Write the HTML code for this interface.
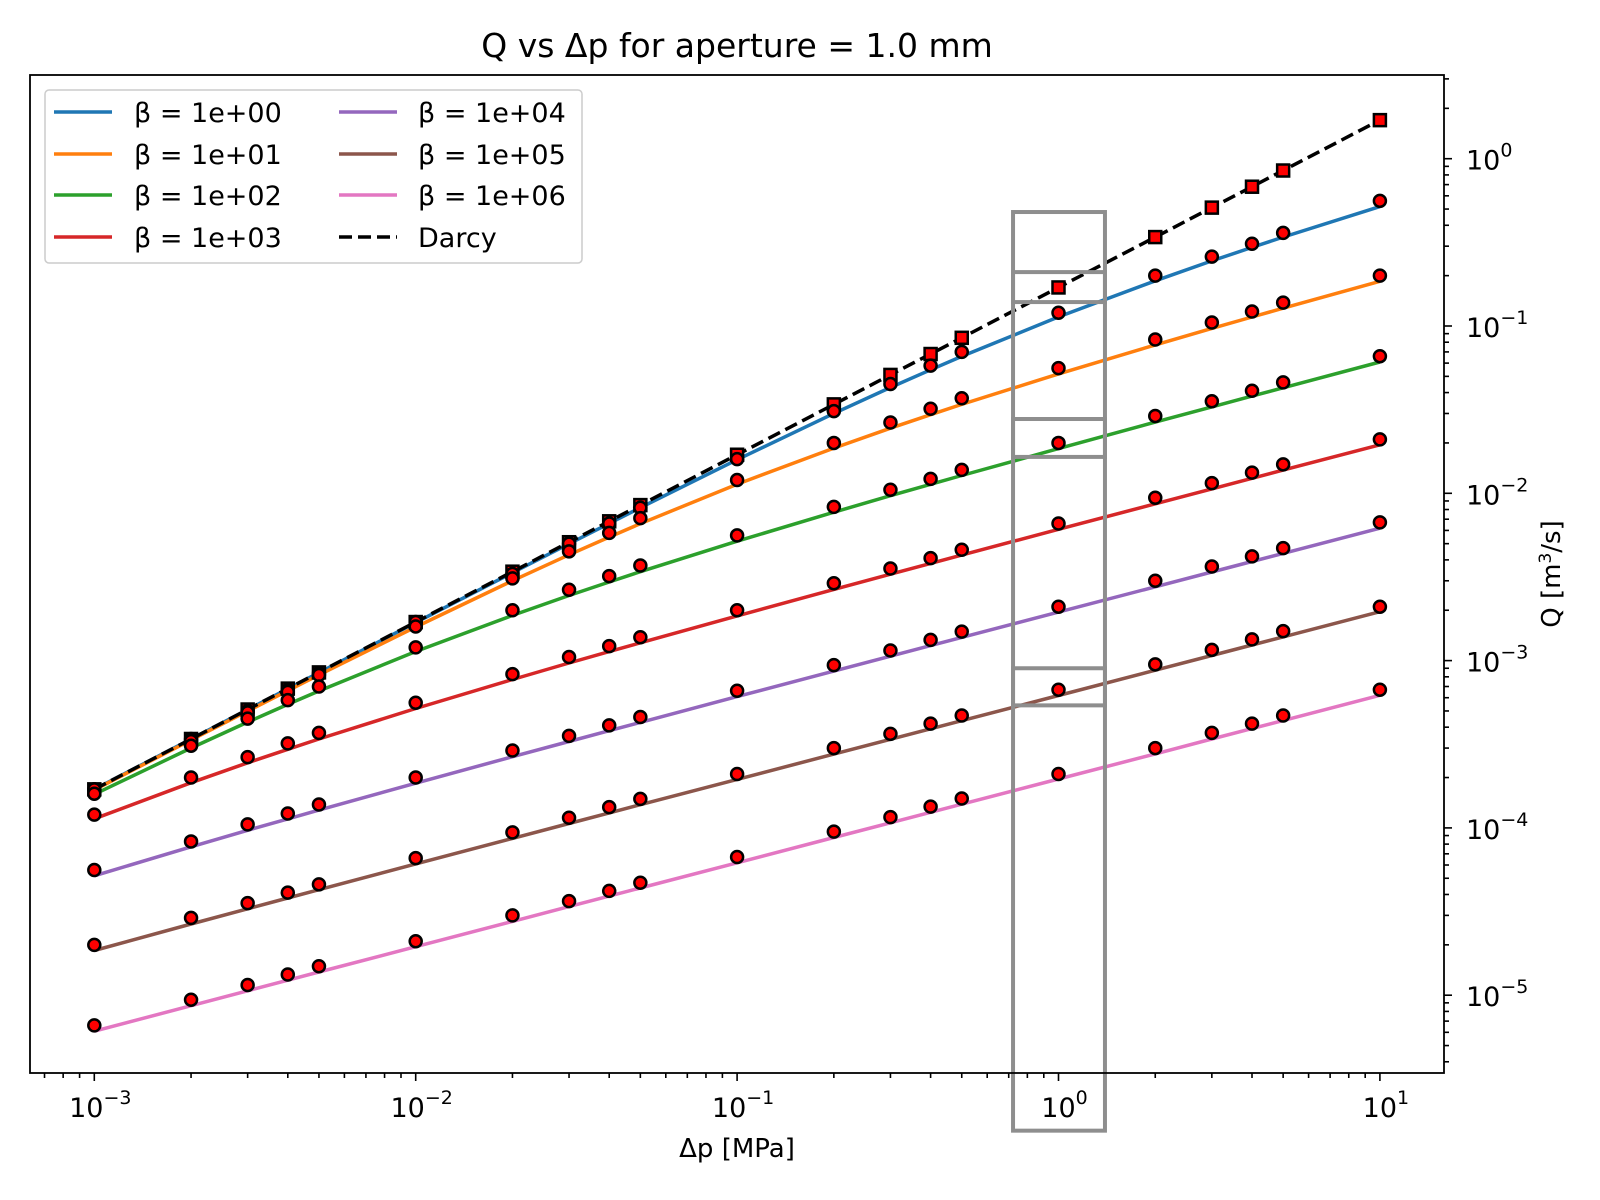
<!DOCTYPE html>
<html><head><meta charset="utf-8"><style>
html,body{margin:0;padding:0;background:#fff;}
svg{display:block;font-family:"DejaVu Sans","Liberation Sans",sans-serif;}
</style></head><body>
<svg id="chart" width="1600" height="1200" viewBox="0 0 1600 1200">
<rect x="0" y="0" width="1600" height="1200" fill="#fff"/>
<g id="plot"></g>
</svg>
<script>
const dp = [0.001,0.002,0.003,0.004,0.005,0.01,0.02,0.03,0.04,0.05,0.1,0.2,0.3,0.4,0.5,1,2,3,4,5,10];
const betaLabels = ["β = 1e+00","β = 1e+01","β = 1e+02","β = 1e+03","β = 1e+04","β = 1e+05","β = 1e+06"];
const lineB0 = [1.699e-4,3.396e-4,5.09e-4,6.781e-4,8.47e-4,1.688e-3,3.351e-3,4.991e-3,6.607e-3,8.204e-3,1.589e-2,3.003e-2,4.289e-2,5.476e-2,6.584e-2,0.1133,0.1864,0.2449,0.2951,0.3398,0.517];
const lineB1 = [1.688e-4,3.351e-4,4.991e-4,6.607e-4,8.204e-4,1.589e-3,3.003e-3,4.289e-3,5.476e-3,6.584e-3,1.133e-2,1.864e-2,2.449e-2,2.951e-2,3.398e-2,5.17e-2,7.71e-2,9.67e-2,0.1132,0.1278,0.1851];
const lineB2 = [1.589e-4,3.003e-4,4.289e-4,5.476e-4,6.584e-4,1.133e-3,1.864e-3,2.449e-3,2.951e-3,3.398e-3,5.17e-3,7.71e-3,9.67e-3,1.132e-2,1.278e-2,1.851e-2,2.663e-2,3.286e-2,3.811e-2,4.274e-2,6.09e-2];
const lineB3 = [1.133e-4,1.864e-4,2.449e-4,2.951e-4,3.398e-4,5.17e-4,7.71e-4,9.67e-4,1.132e-3,1.278e-3,1.851e-3,2.663e-3,3.286e-3,3.811e-3,4.274e-3,6.09e-3,8.66e-3,1.063e-2,1.229e-2,1.376e-2,1.950e-2];
const lineB4 = [5.17e-5,7.71e-5,9.67e-5,1.132e-4,1.278e-4,1.851e-4,2.663e-4,3.286e-4,3.811e-4,4.274e-4,6.09e-4,8.66e-4,1.063e-3,1.229e-3,1.376e-3,1.950e-3,2.762e-3,3.385e-3,3.911e-3,4.374e-3,6.19e-3];
const lineB5 = [1.851e-5,2.663e-5,3.286e-5,3.811e-5,4.274e-5,6.09e-5,8.66e-5,1.063e-4,1.229e-4,1.376e-4,1.950e-4,2.762e-4,3.385e-4,3.911e-4,4.374e-4,6.19e-4,8.76e-4,1.073e-3,1.239e-3,1.386e-3,1.960e-3];
const lineB6 = [6.09e-6,8.66e-6,1.063e-5,1.229e-5,1.376e-5,1.950e-5,2.762e-5,3.385e-5,3.911e-5,4.374e-5,6.19e-5,8.76e-5,1.073e-4,1.239e-4,1.386e-4,1.960e-4,2.77e-4,3.40e-4,3.92e-4,4.38e-4,6.20e-4];
const darcy = [1.7e-4,3.4e-4,5.1e-4,6.8e-4,8.5e-4,1.7e-3,3.4e-3,5.1e-3,6.8e-3,8.5e-3,1.7e-2,3.4e-2,5.1e-2,6.8e-2,8.5e-2,0.17,0.34,0.51,0.68,0.85,1.7];
const ptsB0 = [1.7e-4,3.4e-4,5.0e-4,6.7e-4,8.4e-4,1.7e-3,3.3e-3,5.0e-3,6.6e-3,8.2e-3,1.6e-2,3.1e-2,4.5e-2,5.8e-2,7.0e-2,0.12,0.2,0.26,0.31,0.36,0.56];
const ptsB1 = [1.7e-4,3.3e-4,4.9e-4,6.5e-4,8.2e-4,1.6e-3,3.1e-3,4.5e-3,5.8e-3,7.1e-3,1.2e-2,2.0e-2,2.65e-2,3.2e-2,3.7e-2,5.6e-2,8.3e-2,0.105,0.122,0.138,0.2];
const ptsB2 = [1.6e-4,3.1e-4,4.5e-4,5.8e-4,7.0e-4,1.2e-3,2.0e-3,2.65e-3,3.2e-3,3.7e-3,5.6e-3,8.3e-3,1.05e-2,1.22e-2,1.38e-2,2.0e-2,2.9e-2,3.55e-2,4.1e-2,4.6e-2,6.6e-2];
const ptsB3 = [1.2e-4,2.0e-4,2.65e-4,3.2e-4,3.7e-4,5.6e-4,8.3e-4,1.05e-3,1.22e-3,1.38e-3,2.0e-3,2.9e-3,3.55e-3,4.1e-3,4.6e-3,6.6e-3,9.4e-3,1.15e-2,1.33e-2,1.49e-2,2.1e-2];
const ptsB4 = [5.6e-5,8.3e-5,1.05e-4,1.22e-4,1.38e-4,2.0e-4,2.9e-4,3.55e-4,4.1e-4,4.6e-4,6.6e-4,9.4e-4,1.15e-3,1.33e-3,1.49e-3,2.1e-3,3.0e-3,3.65e-3,4.2e-3,4.7e-3,6.7e-3];
const ptsB5 = [2.0e-5,2.9e-5,3.55e-5,4.1e-5,4.6e-5,6.6e-5,9.4e-5,1.15e-4,1.33e-4,1.49e-4,2.1e-4,3.0e-4,3.65e-4,4.2e-4,4.7e-4,6.7e-4,9.5e-4,1.16e-3,1.34e-3,1.5e-3,2.1e-3];
const ptsB6 = [6.6e-6,9.4e-6,1.15e-5,1.33e-5,1.49e-5,2.1e-5,3.0e-5,3.65e-5,4.2e-5,4.7e-5,6.7e-5,9.5e-5,1.16e-4,1.34e-4,1.5e-4,2.1e-4,3.0e-4,3.7e-4,4.2e-4,4.7e-4,6.7e-4];
const xTickExp = [-3,-2,-1,0,1];
const yTickExp = [0,-1,-2,-3,-4,-5];
const boxX = [0.722,1.395];
const boxOuterY = [0.48,1.55e-6];
const boxInnerY = [[0.21,0.139],[0.0278,0.0165],[9.0e-4,5.4e-4]];

const NS="http://www.w3.org/2000/svg";
const L=30,R=1444,T=75,B=1073;
function sx(v){return 94.3+(Math.log10(v)+3)*321.4;}
function sy(v){return 158.7-Math.log10(v)*167.3;}
const plot=document.getElementById('plot');
function mk(tag,attrs,parent){const e=document.createElementNS(NS,tag);for(const k in attrs)e.setAttribute(k,attrs[k]);(parent||plot).appendChild(e);return e;}
const colors=["#1f77b4","#ff7f0e","#2ca02c","#d62728","#9467bd","#8c564b","#e377c2"];
const lines=[lineB0,lineB1,lineB2,lineB3,lineB4,lineB5,lineB6];
const pts=[ptsB0,ptsB1,ptsB2,ptsB3,ptsB4,ptsB5,ptsB6];

const clip=mk('clipPath',{id:'clipA'});mk('rect',{x:L,y:T,width:R-L,height:B-T},clip);
const g=mk('g',{'clip-path':'url(#clipA)'});


lines.forEach((arr,i)=>{
  const p=mk('polyline',{points:arr.map((v,j)=>sx(dp[j]).toFixed(1)+','+sy(v).toFixed(1)).join(' '),fill:'none',stroke:colors[i],'stroke-width':3.5},g);
  
  
});
const dl=mk('polyline',{points:darcy.map((v,j)=>sx(dp[j]).toFixed(1)+','+sy(v).toFixed(1)).join(' '),fill:'none',stroke:'#000','stroke-width':3.5,'stroke-dasharray':'13,6'},g);


darcy.forEach((v,j)=>{
  const s=mk('rect',{x:sx(dp[j])-6,y:sy(v)-6,width:12,height:12,fill:'#ff0000',stroke:'#000','stroke-width':2.5},g);
  
  
});
pts.forEach((arr,i)=>{arr.forEach((v,j)=>{
  const c=mk('circle',{cx:sx(dp[j]),cy:sy(v),r:6,fill:'#ff0000',stroke:'#000','stroke-width':2.5},g);
  
  
});});
const gx0=sx(boxX[0]),gx1=sx(boxX[1]);
const ob=mk('rect',{x:gx0,y:sy(boxOuterY[0]),width:gx1-gx0,height:sy(boxOuterY[1])-sy(boxOuterY[0]),fill:'none',stroke:'#8e8e8e','stroke-width':4});


boxInnerY.forEach(p=>{
  const r=mk('rect',{x:gx0,y:sy(p[0]),width:gx1-gx0,height:sy(p[1])-sy(p[0]),fill:'none',stroke:'#8e8e8e','stroke-width':4});
  
  
});
const fr=mk('rect',{x:L,y:T,width:R-L,height:B-T,fill:'none',stroke:'#000','stroke-width':1.8});


for(let e=-4;e<=1;e++){for(let m=1;m<10;m++){const v=m*Math.pow(10,e);const x=sx(v);if(x<L||x>R)continue;
  const t=mk('line',{x1:x,x2:x,y1:B,y2:B+(m===1?8:5),stroke:'#000','stroke-width':1.6});
  
  
}}
xTickExp.forEach(e=>{
  const t=mk('text',{x:sx(Math.pow(10,e))+6,y:B+44,'text-anchor':'middle','font-size':27});
  
  
  t.innerHTML=e>=0?'10<tspan dy="-13" font-size="19">'+e+'</tspan>':'10<tspan dy="-13" font-size="19">\u2212'+Math.abs(e)+'</tspan>';
});
for(let e=-6;e<=0;e++){for(let m=1;m<10;m++){const v=m*Math.pow(10,e);const y=sy(v);if(y<T||y>B)continue;
  const t=mk('line',{x1:R,x2:R+(m===1?8:5),y1:y,y2:y,stroke:'#000','stroke-width':1.6});
  
  
}}
yTickExp.forEach(e=>{
  const t=mk('text',{x:R+22,y:sy(Math.pow(10,e))+11,'font-size':27});
  
  
  t.innerHTML=e===0?'10<tspan dy="-13" font-size="19">0</tspan>':'10<tspan dy="-13" font-size="19">\u2212'+Math.abs(e)+'</tspan>';
});
const ti=mk('text',{x:737,y:57,'text-anchor':'middle','font-size':33});ti.textContent='Q vs Δp for aperture = 1.0 mm';


const xl=mk('text',{x:737,y:1157,'text-anchor':'middle','font-size':26});xl.textContent='Δp [MPa]';


const yl=mk('text',{x:0,y:0,'text-anchor':'middle','font-size':26,transform:'translate(1560,574) rotate(-90)'});yl.innerHTML='Q [m<tspan font-size="17" dy="-9">3</tspan><tspan dy="9">/s]</tspan>';


const lg=mk('g',{});


mk('rect',{x:45,y:90,width:537,height:173,rx:4,fill:'#fff','fill-opacity':0.85,stroke:'#ccc','stroke-width':1.5},lg);
const legItems=betaLabels.map((l,i)=>({l:l,c:colors[i],d:false})).concat([{l:'Darcy',c:'#000',d:true}]);
const rowY=[112,154,195,237];
legItems.forEach((it,i)=>{
  const col=Math.floor(i/4),row=i%4;
  const lx=col?339:54,tx=col?418:134;
  const ln=mk('line',{x1:lx,x2:lx+58,y1:rowY[row],y2:rowY[row],stroke:it.c,'stroke-width':3.5},lg);
  if(it.d)ln.setAttribute('stroke-dasharray','13,6');
  const t=mk('text',{x:tx,y:rowY[row]+10,'font-size':27},lg);t.textContent=it.l;
  
  
});
</script>
</body></html>
